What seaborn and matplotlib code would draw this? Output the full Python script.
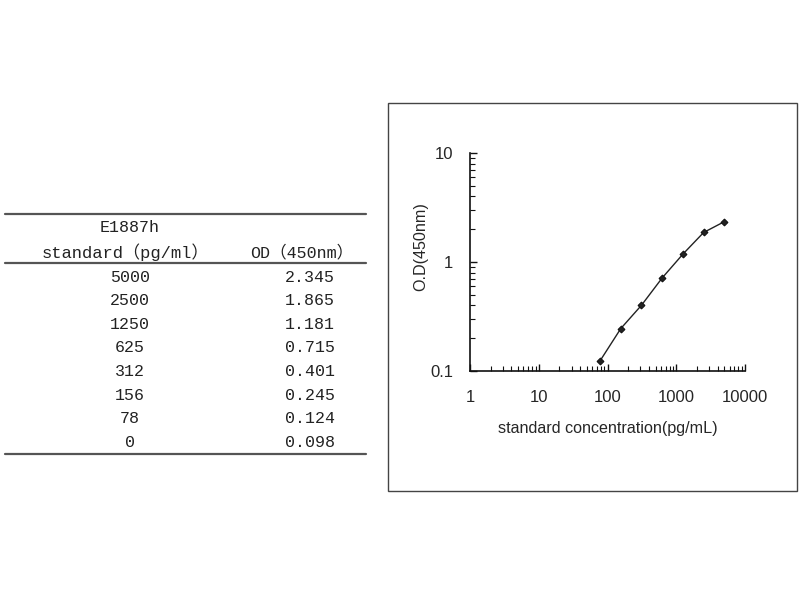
import matplotlib
matplotlib.use("Agg")
import matplotlib.pyplot as plt
from matplotlib.lines import Line2D
from matplotlib.patches import Rectangle
from matplotlib.ticker import LogLocator, NullFormatter, FixedLocator, FixedFormatter
import seaborn as sns
import pandas as pd

# standard curve data (table rows, top to bottom)
KIT = "E1887h"
STD_CONC = [5000, 2500, 1250, 625, 312, 156, 78, 0]
OD_450 = [2.345, 1.865, 1.181, 0.715, 0.401, 0.245, 0.124, 0.098]
COL_HEAD = ["standard（pg/ml）", "OD（450nm）"]

X_TICKS = [1, 10, 100, 1000, 10000]
X_TICK_LABELS = ["1", "10", "100", "1000", "10000"]
Y_TICKS = [0.1, 1, 10]
Y_TICK_LABELS = ["0.1", "1", "10"]

sns.set_style("white")
plt.rcParams["font.family"] = ["Liberation Sans", "DejaVu Sans"]

W, H = 800, 600
fig = plt.figure(figsize=(8, 6), dpi=100)

def fx(px):
    return px / W

def fy(py):
    return 1 - py / H

# ---- table on the left ----
mono = ["Liberation Mono", "Noto Sans CJK SC", "DejaVu Sans Mono"]
line_col = "#555555"
txt_col = "#222222"
for y in (214, 263, 454):
    fig.add_artist(Line2D([fx(5), fx(366)], [fy(y), fy(y)],
                          color=line_col, lw=1.6, transform=fig.transFigure))

fig.text(fx(130), fy(228), KIT, ha="center", va="center",
         fontsize=12, family=mono, color=txt_col)
fig.text(fx(125), fy(252), COL_HEAD[0], ha="center", va="center",
         fontsize=12.3, family=mono, color=txt_col)
fig.text(fx(302), fy(252), COL_HEAD[1], ha="center", va="center",
         fontsize=12, family=mono, color=txt_col)

row_y0, row_dy = 277, 23.6
for i, (c, od) in enumerate(zip(STD_CONC, OD_450)):
    y = row_y0 + i * row_dy
    fig.text(fx(130), fy(y), str(c), ha="center", va="center",
             fontsize=12, family=mono, color=txt_col)
    fig.text(fx(310), fy(y), f"{od:.3f}", ha="center", va="center",
             fontsize=12, family=mono, color=txt_col)

# ---- frame around the chart ----
fig.add_artist(Rectangle((fx(388), fy(491)), fx(797) - fx(388), fy(103) - fy(491),
                         fill=False, edgecolor="#444444", lw=1.0,
                         transform=fig.transFigure))

# ---- standard curve ----
ax = fig.add_axes([fx(470), fy(371), fx(745) - fx(470), fy(153) - fy(371)])
df = pd.DataFrame({"conc": STD_CONC, "od": OD_450})
df = df[df["conc"] > 0]
sns.lineplot(data=df, x="conc", y="od", marker="D", markersize=3.5,
             color="#222222", linewidth=1.0, markeredgecolor="#111111", ax=ax)

ax.set_xscale("log")
ax.set_yscale("log")
ax.set_xlim(1, 10000)
ax.set_ylim(0.1, 10)

ax.xaxis.set_major_locator(FixedLocator(X_TICKS))
ax.xaxis.set_major_formatter(FixedFormatter(X_TICK_LABELS))
ax.yaxis.set_major_locator(FixedLocator(Y_TICKS))
ax.yaxis.set_major_formatter(FixedFormatter(Y_TICK_LABELS))
ax.xaxis.set_minor_locator(LogLocator(base=10, subs=range(2, 10)))
ax.yaxis.set_minor_locator(LogLocator(base=10, subs=range(2, 10)))
ax.xaxis.set_minor_formatter(NullFormatter())
ax.yaxis.set_minor_formatter(NullFormatter())

for side in ("top", "right"):
    ax.spines[side].set_visible(False)
for side in ("left", "bottom"):
    ax.spines[side].set_color("#111111")
    ax.spines[side].set_linewidth(1.2)

ax.tick_params(axis="x", which="both", direction="in", color="#111111",
               labelsize=12, pad=14, bottom=True)
ax.tick_params(axis="y", which="both", direction="in", color="#111111",
               labelsize=12, pad=12, left=True)
ax.tick_params(which="major", length=5, width=1.0)
ax.tick_params(which="minor", length=3.5, width=0.8)

ax.set_xlabel("standard concentration(pg/mL)", fontsize=11.6)
ax.set_ylabel("O.D(450nm)", fontsize=11.6)
ax.xaxis.set_label_coords(0.5, -(421 - 371) / 218, transform=ax.transAxes)
ax.yaxis.set_label_coords(-(470 - 428) / 275, (371 - 247) / 218, transform=ax.transAxes)

fig.savefig("out.png", dpi=100)
